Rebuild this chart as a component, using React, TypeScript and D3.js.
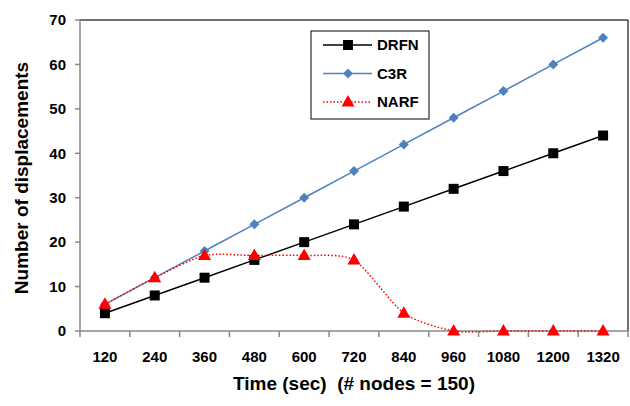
import React from "react";
import * as d3 from "d3";

const categories = ["120", "240", "360", "480", "600", "720", "840", "960", "1080", "1200", "1320"];
const drfn = [4, 8, 12, 16, 20, 24, 28, 32, 36, 40, 44];
const c3r = [6, 12, 18, 24, 30, 36, 42, 48, 54, 60, 66];
const narf = [6, 12, 17, 17, 17, 16, 4, 0, 0, 0, 0];
const yTicks = [0, 10, 20, 30, 40, 50, 60, 70];

const W = 630, H = 406;
const L = 80, R = 628, T = 20, B = 331;
const FONT = "'Liberation Sans', Arial, sans-serif";

export default function App() {
  const x = d3.scaleBand().domain(categories).range([L, R]);
  const y = d3.scaleLinear().domain([0, 70]).range([B, T]);
  const cx = (c: string) => (x(c) as number) + x.bandwidth() / 2;

  const straight = d3.line<number>().x((_, i) => cx(categories[i])).y((d) => y(d));
  const smooth = d3
    .line<number>()
    .x((_, i) => cx(categories[i]))
    .y((d) => y(d))
    .curve(d3.curveCardinal.tension(0.3));

  const blue = "#4f81bd";
  const red = "#ff0000";

  const square = (px: number, py: number, k: string) => (
    <rect key={k} x={px - 5} y={py - 5} width={10} height={10} fill="#000" />
  );
  const diamond = (px: number, py: number, k: string) => (
    <path key={k} d={`M${px},${py - 5}L${px + 5},${py}L${px},${py + 5}L${px - 5},${py}Z`} fill={blue} />
  );
  const tri = (px: number, py: number, k: string) => (
    <path key={k} d={`M${px},${py - 7}L${px + 6.5},${py + 4.5}L${px - 6.5},${py + 4.5}Z`} fill={red} />
  );

  const bounds = categories.map((c) => x(c) as number).concat([R]);

  return (
    <svg width={W} height={H} style={{ position: "absolute", left: 0, top: 0, background: "#fff" }}>
      <line x1={L} y1={T} x2={R} y2={T} stroke="#404040" strokeWidth={1.5} />
      <line x1={R} y1={T} x2={R} y2={B} stroke="#404040" strokeWidth={1.5} />
      <line x1={L} y1={T} x2={L} y2={B} stroke="#888" strokeWidth={1.5} />
      {yTicks.map((t) => (
        <g key={t}>
          <line x1={L - 5} y1={y(t)} x2={L} y2={y(t)} stroke="#888" strokeWidth={1.5} />
          <text x={L - 14} y={y(t)} dy="0.35em" textAnchor="end" fontFamily={FONT} fontWeight="bold" fontSize={15} fill="#000">
            {t}
          </text>
        </g>
      ))}
      <line x1={L} y1={B} x2={R} y2={B} stroke="#888" strokeWidth={1.5} />
      {bounds.map((b, i) => (
        <line key={i} x1={b} y1={B} x2={b} y2={B + 6} stroke="#888" strokeWidth={1.5} />
      ))}
      {categories.map((c) => (
        <text key={c} x={cx(c)} y={357} dy="0.35em" textAnchor="middle" fontFamily={FONT} fontWeight="bold" fontSize={15} fill="#000">
          {c}
        </text>
      ))}
      <path d={straight(c3r) || ""} fill="none" stroke={blue} strokeWidth={1.5} />
      <path d={straight(drfn) || ""} fill="none" stroke="#000" strokeWidth={1.5} />
      <path d={smooth(narf) || ""} fill="none" stroke={red} strokeWidth={1.5} strokeDasharray="1.5,2" />
      {c3r.map((v, i) => diamond(cx(categories[i]), y(v), "c" + i))}
      {drfn.map((v, i) => square(cx(categories[i]), y(v), "d" + i))}
      {narf.map((v, i) => tri(cx(categories[i]), y(v), "n" + i))}
      <rect x={311} y={31} width={118} height={88} fill="#fff" stroke="#000" strokeWidth={1} />
      {[
        { name: "DRFN", color: "#000", dash: "", m: square },
        { name: "C3R", color: blue, dash: "", m: diamond },
        { name: "NARF", color: red, dash: "1.5,2", m: tri },
      ].map((e, i) => {
        const ly = 45 + i * 28.5;
        return (
          <g key={e.name}>
            <line x1={323} y1={ly} x2={372} y2={ly} stroke={e.color} strokeWidth={1.5} strokeDasharray={e.dash} />
            {e.m(348, ly, "l" + i)}
            <text x={377} y={ly} dy="0.35em" fontFamily={FONT} fontWeight="bold" fontSize={15} fill="#000">
              {e.name}
            </text>
          </g>
        );
      })}
      <text
        transform={`translate(21,178) rotate(-90)`}
        textAnchor="middle"
        dy="0.35em"
        fontFamily={FONT}
        fontWeight="bold"
        fontSize={19}
        fill="#000"
      >
        Number of displacements
      </text>
      <text x={354} y={383} dy="0.35em" textAnchor="middle" fontFamily={FONT} fontWeight="bold" fontSize={19} fill="#000" xmlSpace="preserve">
        Time (sec)  (# nodes = 150)
      </text>
    </svg>
  );
}
